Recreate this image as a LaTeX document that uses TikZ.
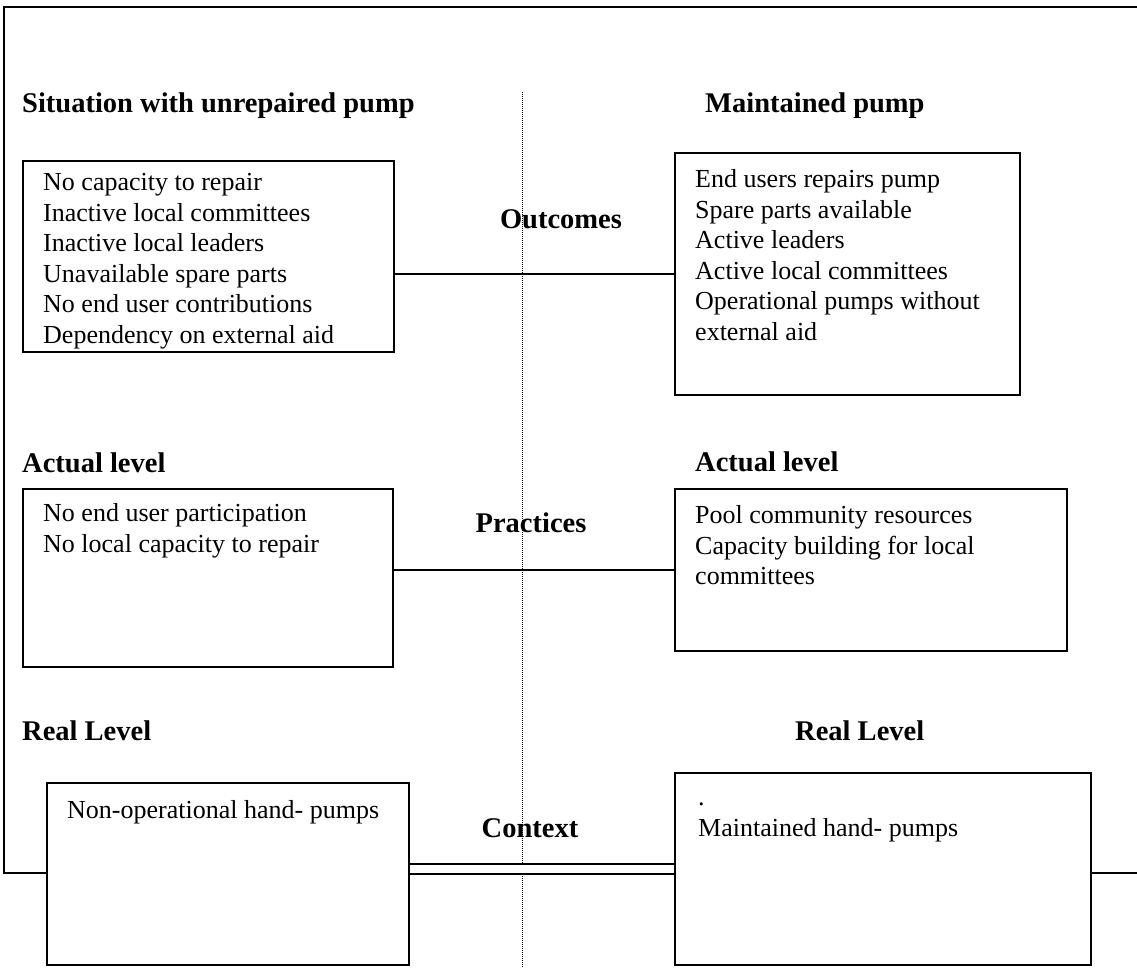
\documentclass[tikz,border=0pt]{standalone}
\usepackage{fontspec}
\setmainfont{Liberation Serif}
\begin{document}
\begin{tikzpicture}[x=1pt,y=-1pt,
  box/.style={draw, line width=1.6pt, inner sep=0pt, anchor=north west},
  body/.style={anchor=north west, inner sep=0pt, align=left,
    font=\fontsize{26}{30.5}\selectfont},
  head/.style={inner sep=0pt, font=\fontsize{28.5}{34}\selectfont\bfseries},
  link/.style={line width=1.6pt},
  frame/.style={line width=2.8pt},
  divider/.style={line width=1pt, densely dotted}]
\useasboundingbox (0,0) rectangle (1137,968);

% dotted divider between the two situations
\coordinate (dtop) at (522,92);
\coordinate (dbot) at (522,968);
\draw[divider] (dtop) -- (dbot);

% column headings
\node[head, anchor=base west] (hleft) at (22,113) {Situation with unrepaired pump};
\node[head, anchor=base west] (hright) at (705,113) {Maintained pump};

% outcomes row
\node[box, minimum width=371pt, minimum height=191pt] (lo) at (22,160) {};
\node[box, minimum width=345pt, minimum height=242pt] (ro) at (674,152) {};
\node[body] (lotext) at ([shift={(21,9)}]lo.north west) {\strut No capacity to repair\\
Inactive local committees\\
Inactive local leaders\\
Unavailable spare parts\\
No end user contributions\\
Dependency on external aid};
\node[body] (rotext) at ([shift={(21,14)}]ro.north west) {\strut End users repairs pump\\
Spare parts available\\
Active leaders\\
Active local committees\\
Operational pumps without\\
external aid};
\node[head, anchor=base] (outcomes) at (561,229) {Outcomes};
\draw[link] (lo.east |- ro.west) -- (ro.west);

% practices row
\node[head, anchor=base west] (alleft) at (22,472) {Actual level};
\node[head, anchor=base west] (alright) at (695,471) {Actual level};
\node[box, minimum width=370pt, minimum height=178pt] (lp) at (22,488) {};
\node[box, minimum width=392pt, minimum height=162pt] (rp) at (674,488) {};
\node[body] (lptext) at ([shift={(21,12)}]lp.north west) {\strut No end user participation\\
No local capacity to repair};
\node[body] (rptext) at ([shift={(21,14)}]rp.north west) {\strut Pool community resources\\
Capacity building for local\\
committees};
\node[head, anchor=base] (practices) at (531,532) {Practices};
\draw[link] (lp.east |- rp.west) -- (rp.west);

% context row
\node[head, anchor=base west] (rlleft) at (22,740) {Real Level};
\node[head, anchor=base west] (rlright) at (795,740) {Real Level};
\node[box, minimum width=362pt, minimum height=182pt] (lc) at (46,782) {};
\node[box, minimum width=416pt, minimum height=192pt] (rc) at (674,772) {};
\node[body] (lctext) at ([shift={(21,15)}]lc.north west) {\strut Non-operational hand- pumps};
\node[body] (rctext) at ([shift={(24,12)}]rc.north west) {\strut .\\
Maintained hand- pumps};
\node[head, anchor=base] (context) at (530,837) {Context};
\draw[link, double, double distance=8.5pt] (lc.east |- rc.west) -- (rc.west);

% outer frame
\coordinate (ftl) at (4,7);
\coordinate (ftr) at (1137,7);
\coordinate (fbl) at (4,873);
\coordinate (fbr) at (1137,873);
\draw[frame] (ftr) -- (ftl) -- (fbl) -- (lc.west |- fbl);
\draw[frame] (rc.east |- fbr) -- (fbr);
\end{tikzpicture}
\end{document}
